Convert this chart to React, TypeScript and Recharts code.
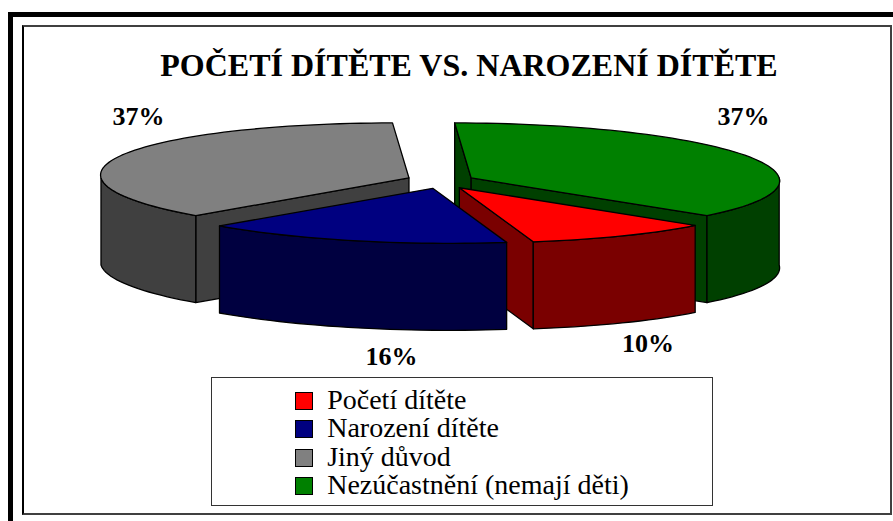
import React from 'react';
import { PieChart, Pie, Legend } from 'recharts';

// slices in drawing order (back slices first), clockwise
const categories = ['Jiný důvod', 'Nezúčastnění (nemají děti)', 'Početí dítěte', 'Narození dítěte'];
const shares = [37, 37, 10, 16];
const legendOrder = ['Početí dítěte', 'Narození dítěte', 'Jiný důvod', 'Nezúčastnění (nemají děti)'];

const topColors: Record<string, string> = {
  'Početí dítěte': '#ff0000',
  'Narození dítěte': '#000080',
  'Jiný důvod': '#808080',
  'Nezúčastnění (nemají děti)': '#008000',
};
const sideColors: Record<string, string> = {
  'Početí dítěte': '#7a0000',
  'Narození dítěte': '#000040',
  'Jiný důvod': '#404040',
  'Nezúčastnění (nemají děti)': '#004000',
};

const data = categories.map((name, i) => ({ name, value: shares[i] }));

const RAD = Math.PI / 180;
const TILT = 0.1786; // ellipse ry / rx
const DEPTH = 0.2825; // slice height / rx
const SKEW = 0.3; // slight perspective lean of the top face
const EXPLODE_X = 0.11;
const EXPLODE_Y = 0.14;
const LABEL_RX = 1.07;
const LABEL_RY = 0.53;
const LABEL_FRONT_SHIFT = 55;
const SERIF = '"Liberation Serif", "Times New Roman", serif';

const toPath = (pts: number[][]) =>
  'M' + pts.map((p) => `${p[0].toFixed(2)},${p[1].toFixed(2)}`).join('L') + 'Z';

const signedArea = (pts: number[][]) => {
  let s = 0;
  for (let i = 0; i < pts.length; i++) {
    const a = pts[i];
    const b = pts[(i + 1) % pts.length];
    s += a[0] * b[1] - b[0] * a[1];
  }
  return s / 2;
};

function renderSlice(props: any) {
  const { cx, cy, outerRadius, startAngle, endAngle, midAngle, percent, name } = props;
  const rx = outerRadius;
  const ry = outerRadius * TILT;
  const depth = outerRadius * DEPTH;
  const m = midAngle * RAD;
  const ox = cx + EXPLODE_X * rx * Math.cos(m);
  const oy = cy - EXPLODE_Y * ry * Math.sin(m);
  const proj = (x: number, y: number, dy: number) => [x + SKEW * (y - cy), y + dy];
  const pt = (a: number, dy = 0) => proj(ox + rx * Math.cos(a * RAD), oy - ry * Math.sin(a * RAD), dy);
  const arc = (a0: number, a1: number, dy = 0) => {
    const n = Math.max(2, Math.ceil(Math.abs(a1 - a0) / 2));
    const out: number[][] = [];
    for (let i = 0; i <= n; i++) out.push(pt(a0 + ((a1 - a0) * i) / n, dy));
    return out;
  };
  const apex = proj(ox, oy, 0);
  const apexLow = proj(ox, oy, depth);
  const top = topColors[name];
  const side = sideColors[name];

  const walls: React.ReactNode[] = [];
  // radial walls, kept only when they face the viewer
  const startWall = [apex, pt(startAngle), pt(startAngle, depth), apexLow];
  const endWall = [pt(endAngle), apex, apexLow, pt(endAngle, depth)];
  if (signedArea(startWall) < -1) walls.push(<path key="rs" d={toPath(startWall)} fill={side} />);
  if (signedArea(endWall) < -1) walls.push(<path key="re" d={toPath(endWall)} fill={side} />);

  // outer curved wall, front half only
  const lo = Math.min(startAngle, endAngle);
  const hi = Math.max(startAngle, endAngle);
  const breaks = [lo];
  for (let b = Math.ceil(lo / 180) * 180; b < hi; b += 180) if (b > lo) breaks.push(b);
  breaks.push(hi);
  for (let i = 0; i < breaks.length - 1; i++) {
    const p = breaks[i];
    const q = breaks[i + 1];
    if (Math.sin(((p + q) / 2) * RAD) < 0) {
      const upper = arc(p, q);
      const lower = arc(q, p, depth);
      walls.push(<path key={'o' + i} d={toPath([...upper, ...lower])} fill={side} />);
    }
  }

  const front = Math.max(0, -Math.sin(m));
  const lx = cx + LABEL_RX * rx * Math.cos(m) + LABEL_FRONT_SHIFT * front;
  const ly = cy - LABEL_RY * rx * Math.sin(m) + 0.25 * depth * front;

  return (
    <g stroke="#000" strokeWidth={1.3} strokeLinejoin="round">
      {walls}
      <path d={toPath([apex, ...arc(startAngle, endAngle)])} fill={top} />
      <text
        x={lx}
        y={ly}
        textAnchor="middle"
        dominantBaseline="central"
        stroke="none"
        fill="#000"
        fontFamily={SERIF}
        fontWeight="bold"
        fontSize={26}
      >
        {`${Math.round(percent * 100)}%`}
      </text>
    </g>
  );
}

function LegendBox(props: any) {
  const items = [...(props.payload || [])].sort(
    (a: any, b: any) => legendOrder.indexOf(a.value) - legendOrder.indexOf(b.value)
  );
  return (
    <div
      style={{
        boxSizing: 'border-box',
        width: 502,
        height: 129,
        border: '1px solid #333',
        background: '#fff',
        paddingTop: 8,
        display: 'flex',
        justifyContent: 'center',
      }}
    >
      <div>
        {items.map((it: any) => (
          <div
            key={it.value}
            style={{
              fontFamily: SERIF,
              fontSize: 28,
              lineHeight: '28.3px',
              color: '#000',
              whiteSpace: 'nowrap',
              display: 'flex',
              alignItems: 'center',
            }}
          >
            <span
              style={{
                display: 'inline-block',
                boxSizing: 'border-box',
                width: 18,
                height: 18,
                border: '1.5px solid #000',
                background: topColors[it.value],
                marginRight: 14,
                marginTop: 2,
              }}
            />
            {it.value}
          </div>
        ))}
      </div>
    </div>
  );
}

export default function App() {
  return (
    <div style={{ position: 'absolute', left: 0, top: 0, width: 893, height: 521, background: '#fff', overflow: 'hidden' }}>
      <div style={{ position: 'absolute', left: 8, top: 12, width: 900, height: 5, background: '#000' }} />
      <div style={{ position: 'absolute', left: 8, top: 12, width: 5, height: 520, background: '#000' }} />
      <div
        style={{
          position: 'absolute',
          left: 22,
          top: 25,
          width: 870,
          height: 490,
          boxSizing: 'border-box',
          border: '2px solid #404040',
          borderLeftColor: '#000',
        }}
      />
      <div
        style={{
          position: 'absolute',
          left: 44,
          top: 49,
          width: 850,
          textAlign: 'center',
          fontFamily: SERIF,
          fontWeight: 'bold',
          fontSize: 32,
          lineHeight: '32px',
          color: '#000',
        }}
      >
        POČETÍ DÍTĚTE VS. NAROZENÍ DÍTĚTE
      </div>
      <div style={{ position: 'absolute', left: 0, top: 0 }}>
        <PieChart width={893} height={521} margin={{ top: 0, right: 0, bottom: 0, left: 0 }}>
          <Pie
            data={data}
            dataKey="value"
            nameKey="name"
            cx={441}
            cy={181}
            outerRadius={308}
            startAngle={-136.8}
            endAngle={-496.8}
            fill="none"
            stroke="none"
            label={renderSlice}
            labelLine={false}
            isAnimationActive={false}
          />
          <Legend
            content={<LegendBox />}
            wrapperStyle={{ left: 211, top: 377, width: 502, height: 129, bottom: 'auto' }}
          />
        </PieChart>
      </div>
    </div>
  );
}
